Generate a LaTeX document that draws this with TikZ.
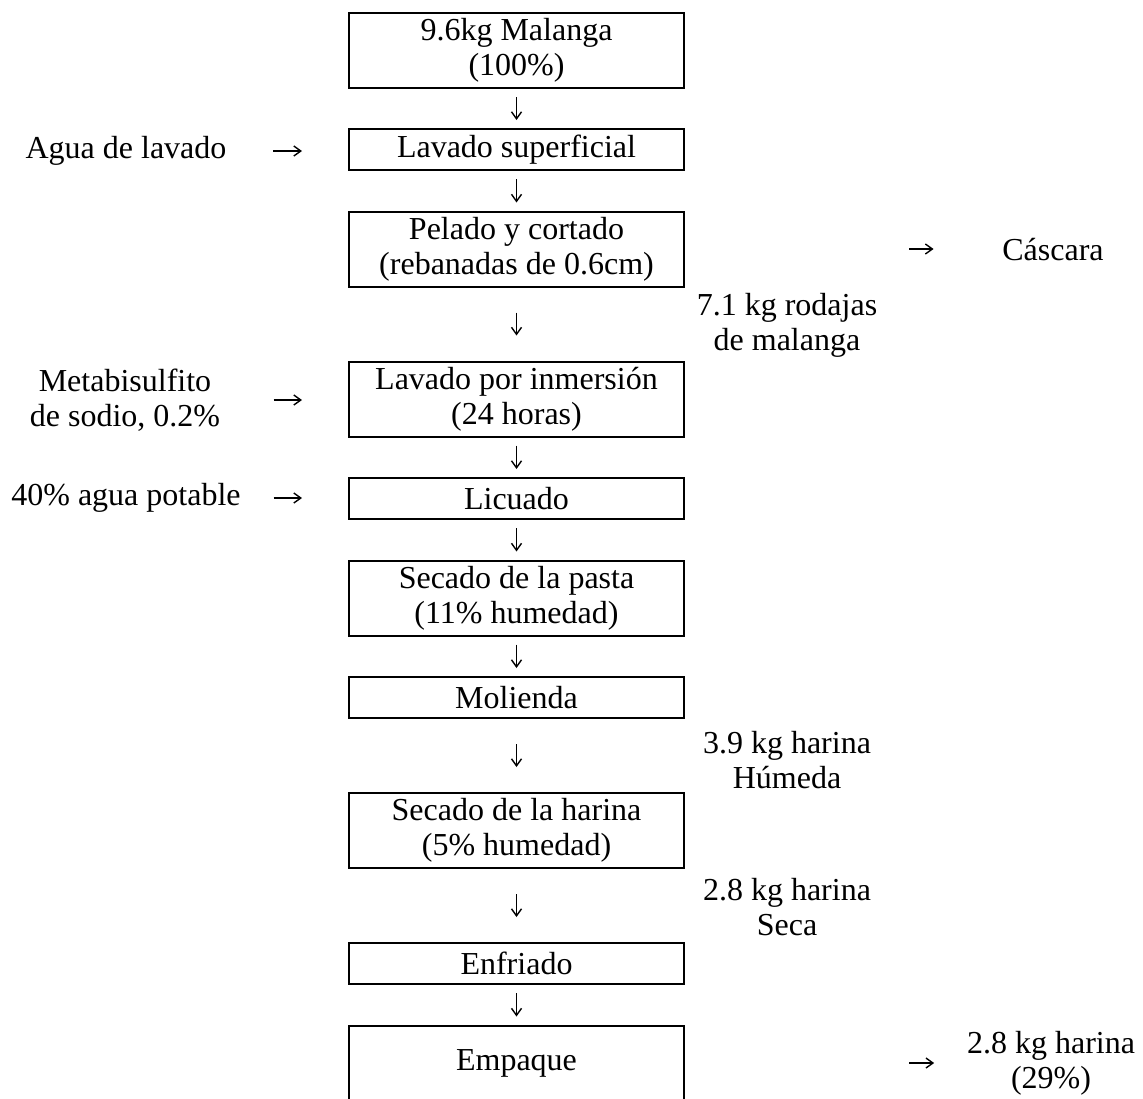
\documentclass[tikz,border=0pt]{standalone}
\usepackage{fontspec}
\setmainfont{Liberation Serif}
\usetikzlibrary{arrows.meta}

\begin{document}
\begin{tikzpicture}[x=0.5pt,y=-0.5pt,
  font=\fontsize{16}{17.5}\selectfont,
  caja/.style={draw,line width=1pt,minimum width=167.5pt,minimum height=20.5pt,inner sep=0pt,align=center},
  cajados/.style={caja,minimum height=37.5pt},
  texto/.style={inner sep=0pt,align=center},
  flecha/.style={line width=0.7pt,-{Straight Barb[length=3.5pt,width=5pt]}},
  paso/.style={flecha,shorten <=#1,shorten >=#1},
  paso/.default=4pt]
\useasboundingbox (0,0) rectangle (1143,1098);
\clip (0,0) rectangle (1143,1098);

\node[cajados] (malanga) at (516.5,50.5) {9.6kg Malanga\\(100\%)};
\node[caja] (lavsup) at (516.5,149.5) {Lavado superficial};
\node[cajados] (pelado) at (516.5,249) {Pelado y cortado\\(rebanadas de 0.6cm)};
\node[cajados] (inmersion) at (516.5,399) {Lavado por inmersión\\(24 horas)};
\node[caja] (licuado) at (516.5,498.5) {Licuado};
\node[cajados] (secpasta) at (516.5,598) {Secado de la pasta\\(11\% humedad)};
\node[caja] (molienda) at (516.5,697.5) {Molienda};
\node[cajados] (secharina) at (516.5,830.5) {Secado de la harina\\(5\% humedad)};
\node[caja] (enfriado) at (516.5,963.5) {Enfriado};
\node[cajados] (empaque) at (516.5,1063) {Empaque};

\node[texto] (agua) at (126,151) {Agua de lavado};
\node[texto] (metabis) at (125,400) {Metabisulfito\\de sodio, 0.2\%};
\node[texto] (potable) at (126,498) {40\% agua potable};
\node[texto] (cascara) at (1053,250) {Cáscara};
\node[texto] (rodajas) at (787,325) {7.1 kg rodajas\\de malanga};
\node[texto] (humeda) at (787,760) {3.9 kg harina\\Húmeda};
\node[texto] (seca) at (787,907) {2.8 kg harina\\Seca};
\node[texto] (harina) at (1051,1063) {2.8 kg harina\\(29\%)};

\draw[paso] (malanga) -- (lavsup);
\draw[paso] (lavsup) -- (pelado);
\draw[paso=12.5pt] (pelado) -- (inmersion);
\draw[paso] (inmersion) -- (licuado);
\draw[paso] (licuado) -- (secpasta);
\draw[paso] (secpasta) -- (molienda);
\draw[paso=12.5pt] (molienda) -- (secharina);
\draw[paso=12.5pt] (secharina) -- (enfriado);
\draw[paso] (enfriado) -- (empaque);

\draw[flecha,shorten <=23.25pt,shorten >=23pt] (agua.east) -- (agua.east -| lavsup.west);
\draw[flecha,shorten <=26.5pt,shorten >=23pt] (metabis.east) -- (metabis.east -| inmersion.west);
\draw[flecha,shorten <=16.25pt,shorten >=23pt] (potable.east) -- (potable.east -| licuado.west);
\draw[flecha,shorten <=112pt,shorten >=34.2pt] (pelado.east) -- (pelado.east -| cascara.west);
\draw[flecha,shorten <=112pt,shorten >=16.25pt] (empaque.east) -- (empaque.east -| harina.west);
\end{tikzpicture}
\end{document}
